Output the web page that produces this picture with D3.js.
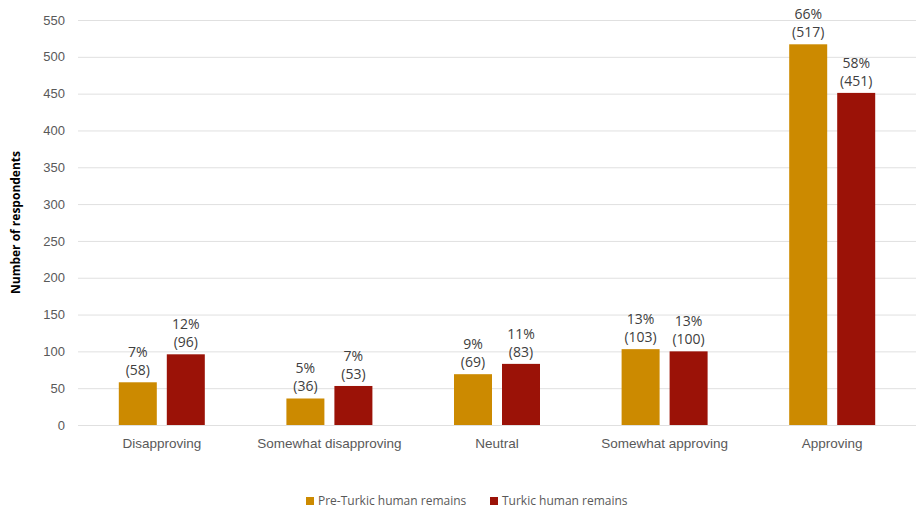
<!DOCTYPE html>
<html>
<head>
<meta charset="utf-8">
<script src="https://cdn.jsdelivr.net/npm/d3@7"></script>
<style>
  body { margin: 0; background: #fff; }
  svg { font-family: "Open Sans", "Liberation Sans", sans-serif; }
  .grid line { stroke: #e0e0e0; }
  .axis text { fill: #595959; }
</style>
</head>
<body>
<div id="chart"></div>
<script>
// categories and series
const categories = ['Disapproving', 'Somewhat disapproving', 'Neutral', 'Somewhat approving', 'Approving'];
const seriesNames = ['Pre-Turkic human remains', 'Turkic human remains'];
const preTurkicCounts = [58, 36, 69, 103, 517];
const preTurkicPct = [7, 5, 9, 13, 66];
const turkicCounts = [96, 53, 83, 100, 451];
const turkicPct = [12, 7, 11, 13, 58];
const yTicks = [0, 50, 100, 150, 200, 250, 300, 350, 400, 450, 500, 550];

const colors = ['#cc8a00', '#9b1207'];

const width = 917, height = 513;
const margin = { top: 20, right: 1, bottom: 88, left: 78 };
const innerW = width - margin.left - margin.right;
const innerH = height - margin.top - margin.bottom;

const svg = d3.select('#chart').append('svg')
  .attr('width', width)
  .attr('height', height);

const g = svg.append('g')
  .attr('transform', `translate(${margin.left},${margin.top})`);

const x0 = d3.scaleBand().domain(categories).range([0, innerW]).paddingInner(0).paddingOuter(0);
// two bars of ~38px with a 10px gap, centred in each category
const x1 = d3.scaleBand().domain(seriesNames)
  .range([x0.bandwidth() / 2 - 43, x0.bandwidth() / 2 + 43])
  .paddingInner(10 / 48).paddingOuter(0);
const y = d3.scaleLinear().domain([0, 550]).range([innerH, 0]);

// gridlines
g.append('g').attr('class', 'grid')
  .call(d3.axisLeft(y).tickValues(yTicks).tickSize(-innerW).tickFormat(''))
  .call((s) => s.select('.domain').remove());

// y axis labels
g.append('g').attr('class', 'axis')
  .call(d3.axisLeft(y).tickValues(yTicks).tickSize(0).tickPadding(13))
  .call((s) => s.select('.domain').remove())
  .selectAll('text')
  .style('font-size', '13px');

// x axis labels
g.append('g').attr('class', 'axis')
  .attr('transform', `translate(0,${innerH})`)
  .call(d3.axisBottom(x0).tickSize(0).tickPadding(13))
  .call((s) => s.select('.domain').remove())
  .selectAll('text')
  .style('font-size', '13.5px');

// y axis title
svg.append('text')
  .attr('transform', `translate(20,${margin.top + innerH / 2}) rotate(-90)`)
  .attr('text-anchor', 'middle')
  .style('font-size', '12px')
  .style('font-weight', 'bold')
  .style('fill', '#000')
  .text('Number of respondents');

const rows = categories.map((c, i) => ({
  cat: c,
  vals: [
    { s: seriesNames[0], v: preTurkicCounts[i], p: preTurkicPct[i] },
    { s: seriesNames[1], v: turkicCounts[i], p: turkicPct[i] },
  ],
}));

const groups = g.selectAll('.cat')
  .data(rows)
  .join('g')
  .attr('class', 'cat')
  .attr('transform', (d) => `translate(${x0(d.cat)},0)`);

groups.selectAll('rect')
  .data((d) => d.vals)
  .join('rect')
  .attr('x', (d) => x1(d.s))
  .attr('width', x1.bandwidth())
  .attr('y', (d) => y(d.v))
  .attr('height', (d) => y(0) - y(d.v))
  .style('fill', (d, i) => colors[i]);

const labels = groups.selectAll('.lbl')
  .data((d) => d.vals)
  .join('text')
  .attr('class', 'lbl')
  .attr('text-anchor', 'middle')
  .style('font-size', '14px')
  .style('fill', '#404040');

labels.append('tspan')
  .attr('x', (d) => x1(d.s) + x1.bandwidth() / 2)
  .attr('y', (d) => y(d.v) - 25)
  .text((d) => `${d.p}%`);

labels.append('tspan')
  .attr('x', (d) => x1(d.s) + x1.bandwidth() / 2)
  .attr('y', (d) => y(d.v) - 7)
  .text((d) => `(${d.v})`);

// legend
const legend = svg.append('g').attr('transform', 'translate(306,505)');
const legendX = [0, 184];
seriesNames.forEach((name, i) => {
  const item = legend.append('g').attr('transform', `translate(${legendX[i]},0)`);
  item.append('rect')
    .attr('x', 0).attr('y', -8)
    .attr('width', 8).attr('height', 8)
    .style('fill', colors[i]);
  item.append('text')
    .attr('x', 12).attr('y', 0)
    .style('font-size', '12px')
    .style('fill', '#595959')
    .text(name);
});
</script>
</body>
</html>
